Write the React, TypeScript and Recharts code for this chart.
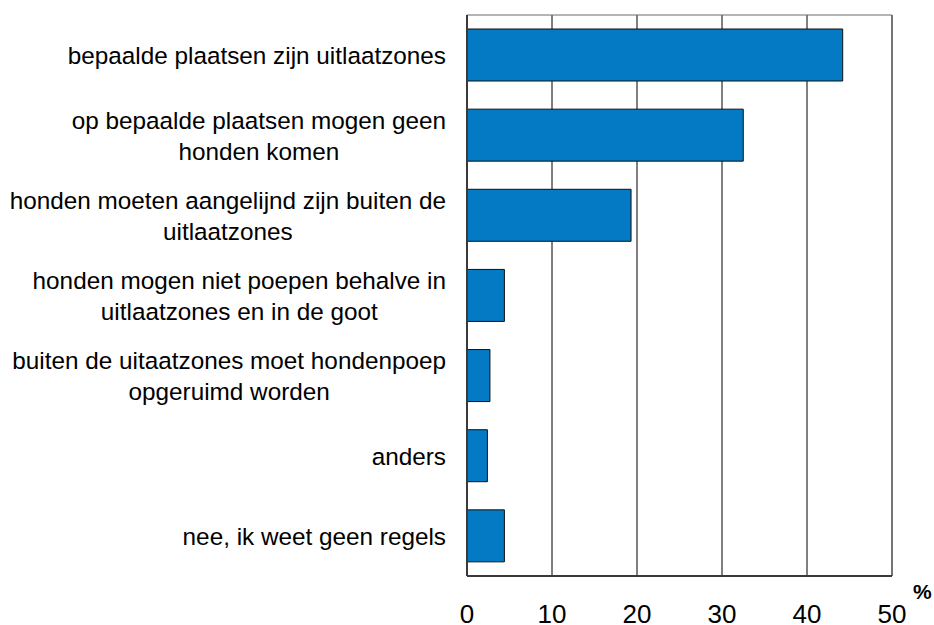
import React from "react";
import {
  BarChart, Bar, XAxis, YAxis, CartesianGrid, ReferenceArea,
} from "recharts";

const categories = [
  "bepaalde plaatsen zijn uitlaatzones",
  "op bepaalde plaatsen mogen geen\nhonden komen",
  "honden moeten aangelijnd zijn buiten de\nuitlaatzones",
  "honden mogen niet poepen behalve in\nuitlaatzones en in de goot",
  "buiten de uitaatzones moet hondenpoep\nopgeruimd worden",
  "anders",
  "nee, ik weet geen regels",
];
const values = [44.2, 32.5, 19.3, 4.4, 2.7, 2.4, 4.4];
const xTicks = [0, 10, 20, 30, 40, 50];

const FONT = "'Liberation Sans', Arial, sans-serif";
const LABEL_SIZE = 24.3;

const data = categories.map((label, i) => ({ label, value: values[i] }));

let ctx: CanvasRenderingContext2D | null = null;
function textWidth(s: string, font: string) {
  if (!ctx) ctx = document.createElement("canvas").getContext("2d");
  if (!ctx) return s.length * 11;
  ctx.font = font;
  return ctx.measureText(s).width;
}

// multi-line labels: lines centred on each other, block right-aligned
function CategoryTick(props: any) {
  const { x, y, payload } = props;
  const lines: string[] = String(payload.value).split("\n");
  const lh = 31;
  const right = x - 21;
  const block = Math.max(...lines.map((l) => textWidth(l, `${LABEL_SIZE}px ${FONT}`)));
  const cx = right - block / 2;
  const y0 = y - ((lines.length - 1) * lh) / 2 + 9;
  return (
    <g>
      {lines.map((l, i) => (
        <text
          key={i}
          x={cx}
          y={y0 + i * lh}
          textAnchor="middle"
          fontSize={LABEL_SIZE}
          fontFamily={FONT}
          fill="#000"
        >
          {l}
        </text>
      ))}
    </g>
  );
}

function ValueTick(props: any) {
  const { x, y, payload } = props;
  return (
    <text x={x} y={y + 47} textAnchor="middle" fontSize={26} fontFamily={FONT} fill="#000">
      {payload.value}
    </text>
  );
}

export default function App() {
  return (
    <div style={{ position: "absolute", left: 0, top: 0, background: "#fff" }}>
      <BarChart
        width={934}
        height={625}
        data={data}
        layout="vertical"
        margin={{ top: 15, right: 42, bottom: 0, left: 0 }}
      >
        <CartesianGrid horizontal={false} vertical stroke="#000" strokeWidth={1} />
        <XAxis
          type="number"
          domain={[0, 50]}
          ticks={xTicks}
          height={49}
          tickLine={false}
          tickSize={0}
          tickMargin={0}
          axisLine={{ stroke: "#3a3a3a", strokeWidth: 2 }}
          tick={<ValueTick />}
          interval={0}
        />
        <YAxis
          type="category"
          dataKey="label"
          width={467}
          tickLine={false}
          tickSize={0}
          tickMargin={0}
          axisLine={{ stroke: "#3a3a3a", strokeWidth: 2 }}
          tick={<CategoryTick />}
          interval={0}
        />
        <ReferenceArea x1={0} x2={50} fill="none" stroke="#6a6a6a" strokeWidth={1} />
        <Bar
          dataKey="value"
          fill="#0479C4"
          stroke="#111"
          strokeWidth={1}
          barSize={52}
          isAnimationActive={false}
        />
      </BarChart>
      <div
        style={{
          position: "absolute",
          left: 913,
          top: 581,
          fontFamily: FONT,
          fontWeight: "bold",
          fontSize: 21,
          lineHeight: "21px",
        }}
      >
        %
      </div>
    </div>
  );
}
